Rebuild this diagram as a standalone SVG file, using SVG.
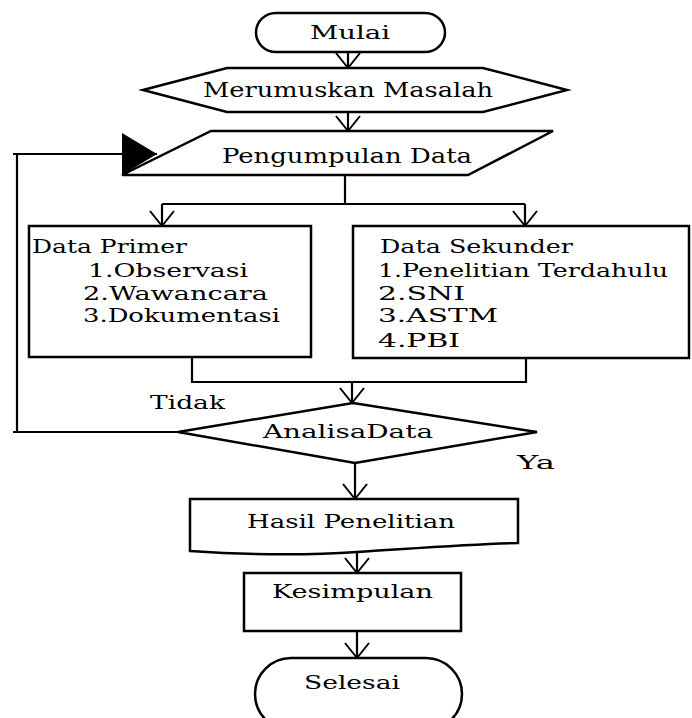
<svg xmlns="http://www.w3.org/2000/svg" width="692" height="718" viewBox="0 0 692 718">
<defs>
<style>
.s{fill:#fff;stroke:#000;stroke-width:2.5}
.c{fill:none;stroke:#000;stroke-width:2.2}
.t{font-family:'DejaVu Serif','Liberation Serif',serif;font-size:19px;fill:#000}
</style>
<marker id="v" markerUnits="userSpaceOnUse" viewBox="-16 -14 18 28" refX="0" refY="0" markerWidth="18" markerHeight="28" orient="auto" overflow="visible">
<path d="M-15,-12 L0,0 L-15,12" fill="none" stroke="#000" stroke-width="2"/>
</marker>
<marker id="t" markerUnits="userSpaceOnUse" viewBox="-36 -22 37 44" refX="0" refY="0" markerWidth="37" markerHeight="44" orient="auto" overflow="visible">
<path d="M-35,-21 L0,0 L-35,21 Z" fill="#000"/>
</marker>
</defs>
<g id="connectors">
<path class="c" d="M348,52 V68" marker-end="url(#v)"/>
<path class="c" d="M348,112 V131" marker-end="url(#v)"/>
<path class="c" d="M345,175 V204 M162,204 H525"/>
<path class="c" d="M162,204 V226" marker-end="url(#v)"/>
<path class="c" d="M525,204 V226" marker-end="url(#v)"/>
<path class="c" d="M192,357 V382 H526 V358"/>
<path class="c" d="M352,382 V403" marker-end="url(#v)"/>
<path class="c" d="M355,463 V499" marker-end="url(#v)"/>
<path class="c" d="M357,552 V573" marker-end="url(#v)"/>
<path class="c" d="M357,631 V658" marker-end="url(#v)"/>
<path class="c" d="M178,432 H17 V154 H157" marker-end="url(#t)"/>
<path class="c" d="M13,432 H17 M13,154 H17"/>
</g>
<g class="t">
<g id="mulai">
<rect class="s" x="256" y="13" width="189" height="39" rx="20"/>
<text x="310" y="39" textLength="80" lengthAdjust="spacingAndGlyphs">Mulai</text>
</g>
<g id="merumuskan">
<polygon class="s" points="143,90 227,68 483,68 567,90 483,112 227,112"/>
<text x="203" y="97" font-size="20" textLength="290" lengthAdjust="spacingAndGlyphs">Merumuskan Masalah</text>
</g>
<g id="pengumpulan">
<polygon class="s" points="211,131 553,131 468,175 122,175"/>
<text x="222" y="163" font-size="20" textLength="250" lengthAdjust="spacingAndGlyphs">Pengumpulan Data</text>
</g>
<g id="primer">
<rect class="s" x="29" y="226" width="282" height="131"/>
<text x="32" y="253" textLength="155" lengthAdjust="spacingAndGlyphs">Data Primer</text>
<text x="88" y="277" textLength="160" lengthAdjust="spacingAndGlyphs">1.Observasi</text>
<text x="83" y="300" textLength="185" lengthAdjust="spacingAndGlyphs">2.Wawancara</text>
<text x="83" y="322" textLength="197" lengthAdjust="spacingAndGlyphs">3.Dokumentasi</text>
</g>
<g id="sekunder">
<rect class="s" x="353" y="226" width="336" height="132"/>
<text x="380" y="253" textLength="193" lengthAdjust="spacingAndGlyphs">Data Sekunder</text>
<text x="378" y="277" textLength="290" lengthAdjust="spacingAndGlyphs">1.Penelitian Terdahulu</text>
<text x="378" y="300" textLength="87" lengthAdjust="spacingAndGlyphs">2.SNI</text>
<text x="378" y="322" textLength="120" lengthAdjust="spacingAndGlyphs">3.ASTM</text>
<text x="378" y="347" textLength="82" lengthAdjust="spacingAndGlyphs">4.PBI</text>
</g>
<g id="analisa">
<polygon class="s" points="353,403 537,432 355,463 178,432"/>
<text x="263" y="438" textLength="170" lengthAdjust="spacingAndGlyphs">AnalisaData</text>
</g>
<g id="labels">
<text x="150" y="409" textLength="75" lengthAdjust="spacingAndGlyphs">Tidak</text>
<text x="517" y="469" textLength="38" lengthAdjust="spacingAndGlyphs">Ya</text>
</g>
<g id="hasil">
<path class="s" d="M190,499 H518 V543 C470,544 420,548 357,552 C300,556 250,555 190,551 Z"/>
<text x="247" y="528" textLength="208" lengthAdjust="spacingAndGlyphs">Hasil Penelitian</text>
</g>
<g id="kesimpulan">
<rect class="s" x="244" y="573" width="217" height="58"/>
<text x="272" y="598" textLength="161" lengthAdjust="spacingAndGlyphs">Kesimpulan</text>
</g>
<g id="selesai">
<rect class="s" x="255" y="658" width="207" height="72" rx="36"/>
<text x="304" y="689" textLength="96" lengthAdjust="spacingAndGlyphs">Selesai</text>
</g>
</g>
</svg>
